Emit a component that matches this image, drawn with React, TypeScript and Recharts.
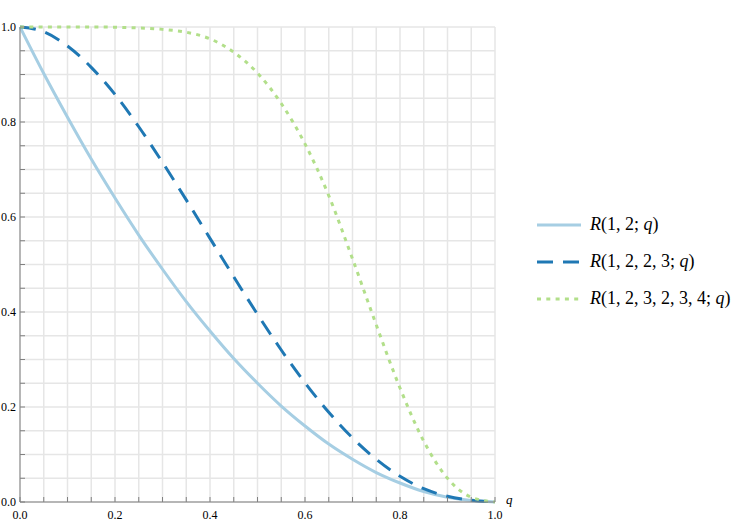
import React from 'react';
import { LineChart, Line, XAxis, YAxis, CartesianGrid } from 'recharts';

const qValues = [0, 0.05, 0.1, 0.15, 0.2, 0.25, 0.3, 0.35, 0.4, 0.45, 0.5, 0.55, 0.6, 0.65, 0.7, 0.75, 0.8, 0.85, 0.9, 0.95, 1];
const r12 = [1, 0.902, 0.81, 0.722, 0.64, 0.562, 0.49, 0.422, 0.36, 0.302, 0.25, 0.202, 0.16, 0.122, 0.09, 0.062, 0.04, 0.022, 0.01, 0.003, 0];
const r1223 = [1, 0.99, 0.96, 0.915, 0.858, 0.79, 0.715, 0.636, 0.555, 0.474, 0.395, 0.32, 0.251, 0.189, 0.135, 0.09, 0.054, 0.028, 0.012, 0.004, 0];
const r123234 = [1, 1, 1, 1, 0.9995, 0.998, 0.995, 0.989, 0.975, 0.947, 0.903, 0.839, 0.754, 0.645, 0.512, 0.373, 0.24, 0.128, 0.05, 0.01, 0];
const ticks = [0, 0.05, 0.1, 0.15, 0.2, 0.25, 0.3, 0.35, 0.4, 0.45, 0.5, 0.55, 0.6, 0.65, 0.7, 0.75, 0.8, 0.85, 0.9, 0.95, 1];

const data = qValues.map((q, i) => ({ q, a: r12[i], b: r1223[i], c: r123234[i] }));

const font = '"Liberation Serif", "Times New Roman", serif';

// label only every 0.2, minor ticks in between
const fmt = (v: number) => (Math.abs(v * 5 - Math.round(v * 5)) < 1e-6 ? v.toFixed(1) : '');

const series = [
    { key: 'a', color: '#a6cee3', dash: undefined, args: '1, 2; ' },
    { key: 'b', color: '#1f78b4', dash: '16 10', args: '1, 2, 2, 3; ' },
    { key: 'c', color: '#b2df8a', dash: '4 5.3', args: '1, 2, 3, 2, 3, 4; ' },
];

export default function App() {
    return (
        <div style={{ position: 'absolute', left: 0, top: 0, width: 747, height: 523, fontFamily: font }}>
            <LineChart
                width={747}
                height={523}
                data={data}
                margin={{ top: 27, right: 252, bottom: 0, left: 0 }}
                style={{ fontFamily: font }}
            >
                <CartesianGrid stroke="#e6e6e6" strokeWidth={1.5} />
                <XAxis
                    dataKey="q"
                    type="number"
                    domain={[0, 1]}
                    ticks={ticks}
                    interval={0}
                    tickFormatter={fmt}
                    tickSize={-5}
                    tickMargin={13}
                    height={21}
                    stroke="#808080"
                    tick={{ fill: '#000', fontSize: 12, fontFamily: font }}
                    label={{
                        content: (p: any) => (
                            <text x={p.viewBox.x + p.viewBox.width + 11} y={p.viewBox.y + 2} fontFamily={font} fontSize={13} fontStyle="italic" fill="#000">q</text>
                        ),
                    }}
                />
                <YAxis
                    type="number"
                    domain={[0, 1]}
                    ticks={ticks}
                    interval={0}
                    tickFormatter={fmt}
                    tickSize={-5}
                    tickMargin={9}
                    width={20}
                    stroke="#808080"
                    tick={{ fill: '#000', fontSize: 12, fontFamily: font }}
                />
                {series.map((s) => (
                    <Line
                        key={s.key}
                        dataKey={s.key}
                        type="monotone"
                        stroke={s.color}
                        strokeWidth={3}
                        strokeDasharray={s.dash}
                        dot={false}
                        activeDot={false}
                        isAnimationActive={false}
                    />
                ))}
            </LineChart>
            <div style={{ position: 'absolute', left: 537, top: 224 - 18, fontSize: 18, color: '#000' }}>
                {series.map((s) => (
                    <div key={s.key} style={{ display: 'flex', alignItems: 'center', height: 37 }}>
                        <svg width={44} height={10}>
                            <line x1={0} y1={5} x2={44} y2={5} stroke={s.color} strokeWidth={3} strokeDasharray={s.dash} />
                        </svg>
                        <span style={{ marginLeft: 9, whiteSpace: 'nowrap' }}>
                            <i>R</i>({s.args}<i>q</i>)
                        </span>
                    </div>
                ))}
            </div>
        </div>
    );
}
